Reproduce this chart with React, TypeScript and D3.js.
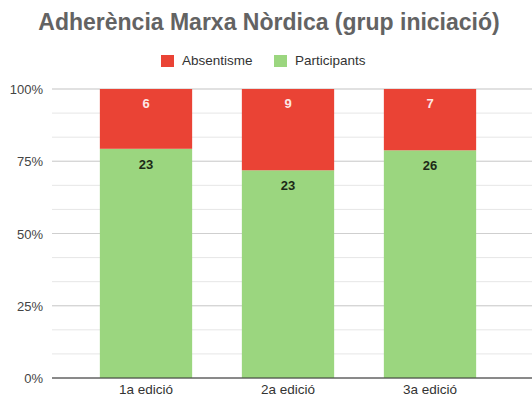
import { useMemo } from 'react';
import * as d3 from 'd3';

const categories = ['1a edició', '2a edició', '3a edició'];
const absentisme = [6, 9, 7];
const participants = [23, 23, 26];
const yTicks = [0, 0.25, 0.5, 0.75, 1];
const seriesNames = ['Absentisme', 'Participants'];
const seriesColors = ['#ea4335', '#9bd67f'];

const W = 532;
const H = 405;

export default function App() {
  const x = useMemo(
    () => d3.scaleBand<string>().domain(categories).range([75, 501]).paddingInner(0.35).paddingOuter(0.175),
    []
  );
  const y = useMemo(() => d3.scaleLinear().domain([0, 1]).range([378, 89]), []);
  const minor = d3.range(0, 1.0001, 1 / 12);
  const font = '"Liberation Sans", Arial, sans-serif';

  return (
    <svg width={W} height={H} style={{ position: 'absolute', left: 0, top: 0, background: '#fff' }} fontFamily={font}>
      <text x={269} y={30} textAnchor="middle" fontSize={23} fontWeight="bold" fill="#636363">
        Adherència Marxa Nòrdica (grup iniciació)
      </text>

      {seriesNames.map((n, i) => {
        const lx = i === 0 ? 161 : 274;
        return (
          <g key={n}>
            <rect x={lx} y={55} width={13} height={12} fill={seriesColors[i]} />
            <text x={lx + 21} y={65} fontSize={13.5} fill="#333">{n}</text>
          </g>
        );
      })}

      {minor.map((t) => (
        <line key={t} x1={52} x2={W} y1={y(t)} y2={y(t)} stroke="#e6e6e6" strokeWidth={1} />
      ))}
      {yTicks.map((t) => (
        <g key={t}>
          <line x1={52} x2={W} y1={y(t)} y2={y(t)} stroke="#cfcfcf" strokeWidth={1} />
          <text x={43} y={y(t) + 5} textAnchor="end" fontSize={13} fill="#444">
            {d3.format('.0%')(t)}
          </text>
        </g>
      ))}

      {categories.map((c, i) => {
        const total = absentisme[i] + participants[i];
        const p = participants[i] / total;
        const bx = x(c)!;
        const bw = x.bandwidth();
        return (
          <g key={c}>
            <rect x={bx} y={y(p)} width={bw} height={y(0) - y(p)} fill={seriesColors[1]} />
            <rect x={bx} y={y(1)} width={bw} height={y(p) - y(1)} fill={seriesColors[0]} />
            <text x={bx + bw / 2} y={y(1) + 19} textAnchor="middle" fontSize={13} fontWeight="bold" fill="#fde8e6">
              {absentisme[i]}
            </text>
            <text x={bx + bw / 2} y={y(p) + 20} textAnchor="middle" fontSize={13} fontWeight="bold" fill="#1d2a17">
              {participants[i]}
            </text>
            <text x={bx + bw / 2} y={394} textAnchor="middle" fontSize={13.5} fill="#333">
              {c}
            </text>
          </g>
        );
      })}

      <line x1={52} x2={W} y1={y(0)} y2={y(0)} stroke="#333" strokeWidth={1} />
    </svg>
  );
}
